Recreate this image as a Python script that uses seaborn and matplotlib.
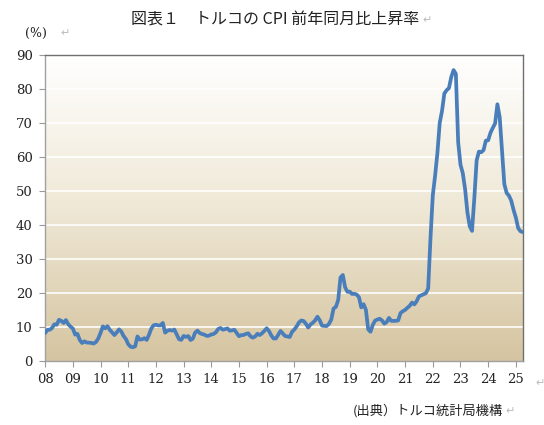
import matplotlib
matplotlib.use("Agg")
import matplotlib.pyplot as plt
from matplotlib.colors import LinearSegmentedColormap
import numpy as np
import pandas as pd
import seaborn as sns

# monthly CPI YoY (%), Jan 2008 - Apr 2025
cpi_2008 = [8.17, 9.10, 9.15, 9.66, 10.74, 10.61, 12.06, 11.77, 11.13, 11.99, 10.76, 10.06]
cpi_2009 = [9.50, 7.73, 7.89, 6.13, 5.24, 5.73, 5.39, 5.33, 5.27, 5.08, 5.53, 6.53]
cpi_2010 = [8.19, 10.13, 9.56, 10.19, 9.10, 8.37, 7.58, 8.33, 9.24, 8.62, 7.29, 6.40]
cpi_2011 = [4.90, 4.16, 3.99, 4.26, 7.17, 6.24, 6.31, 6.65, 6.15, 7.66, 9.48, 10.45]
cpi_2012 = [10.61, 10.43, 10.43, 11.14, 8.28, 8.87, 9.07, 8.88, 9.19, 7.80, 6.37, 6.16]
cpi_2013 = [7.31, 7.03, 7.29, 6.13, 6.51, 8.30, 8.88, 8.17, 7.88, 7.71, 7.32, 7.40]
cpi_2014 = [7.75, 7.89, 8.39, 9.38, 9.66, 9.16, 9.32, 9.54, 8.86, 8.96, 9.15, 8.17]
cpi_2015 = [7.24, 7.55, 7.61, 7.91, 8.09, 7.20, 6.81, 7.14, 7.95, 7.58, 8.10, 8.81]
cpi_2016 = [9.58, 8.78, 7.46, 6.57, 6.58, 7.64, 8.79, 8.05, 7.28, 7.16, 7.00, 8.53]
cpi_2017 = [9.22, 10.13, 11.29, 11.87, 11.72, 10.90, 9.79, 10.68, 11.20, 11.90, 12.98, 11.92]
cpi_2018 = [10.35, 10.26, 10.23, 10.85, 12.15, 15.39, 15.85, 17.90, 24.52, 25.24, 21.62, 20.30]
cpi_2019 = [20.35, 19.67, 19.71, 19.50, 18.71, 15.72, 16.65, 15.01, 9.26, 8.55, 10.56, 11.84]
cpi_2020 = [12.15, 12.37, 11.86, 10.94, 11.39, 12.62, 11.76, 11.77, 11.75, 11.89, 14.03, 14.60]
cpi_2021 = [14.97, 15.61, 16.19, 17.14, 16.59, 17.53, 18.95, 19.25, 19.58, 19.89, 21.31, 36.08]
cpi_2022 = [48.69, 54.44, 61.14, 69.97, 73.50, 78.62, 79.60, 80.21, 83.45, 85.51, 84.39, 64.27]
cpi_2023 = [57.68, 55.18, 50.51, 43.68, 39.59, 38.21, 47.83, 58.94, 61.53, 61.36, 61.98, 64.77]
cpi_2024 = [64.86, 67.07, 68.50, 69.80, 75.45, 71.60, 61.78, 51.97, 49.38, 48.58, 47.09, 44.38]
cpi_2025 = [42.12, 39.05, 38.10, 37.86]

year_labels = ["08", "09", "10", "11", "12", "13", "14", "15", "16",
               "17", "18", "19", "20", "21", "22", "23", "24", "25"]
y_ticks = [0, 10, 20, 30, 40, 50, 60, 70, 80, 90]

values = (cpi_2008 + cpi_2009 + cpi_2010 + cpi_2011 + cpi_2012 + cpi_2013
          + cpi_2014 + cpi_2015 + cpi_2016 + cpi_2017 + cpi_2018 + cpi_2019
          + cpi_2020 + cpi_2021 + cpi_2022 + cpi_2023 + cpi_2024 + cpi_2025)
df = pd.DataFrame({"month": np.arange(len(values)), "cpi": values})

sns.set_theme(style="white")
plt.rcParams["font.family"] = ["Noto Sans CJK JP", "DejaVu Sans"]

fig = plt.figure(figsize=(5.44, 4.25), dpi=100)
ax = fig.add_axes([0.083, 0.151, 0.878, 0.72])

xmax = len(values) - 1
# gradient background, white at top to tan at bottom
bg = LinearSegmentedColormap.from_list("bg", ["#D5C4A0", "#EFE8D6", "#FFFFFF"])
grad = np.linspace(0, 1, 256).reshape(-1, 1)
ax.imshow(grad, cmap=bg, aspect="auto", origin="lower",
          extent=[0, xmax, 0, 90], zorder=0)

for y in y_ticks[1:-1]:
    ax.axhline(y, color="white", lw=1.3, alpha=0.9, zorder=1)

sns.lineplot(data=df, x="month", y="cpi", color="#4A7EBB", lw=2.7, ax=ax, zorder=3)

ax.set_xlim(0, xmax)
ax.set_ylim(0, 90)
ax.set_xticks(np.arange(len(year_labels)) * 12)
ax.set_xticklabels(year_labels, fontfamily="DejaVu Serif", fontsize=9.5, color="#222222")
ax.set_yticks(y_ticks)
ax.set_yticklabels([str(v) for v in y_ticks], fontfamily="DejaVu Serif",
                   fontsize=9.5, color="#222222")
ax.set_xlabel("")
ax.set_ylabel("")
ax.tick_params(axis="both", which="both", length=4, width=0.8, color="#999999",
               pad=5, direction="out", bottom=True, left=True)

for side in ["top", "right"]:
    ax.spines[side].set_color("#707070")
    ax.spines[side].set_linewidth(1.0)
for side in ["left", "bottom"]:
    ax.spines[side].set_color("#A0A0A0")
    ax.spines[side].set_linewidth(1.0)

mark = "#BBBBBB"
fig.text(0.505, 0.952, "図表１　トルコの CPI 前年同月比上昇率", ha="center", va="center",
         fontsize=11.5, color="#222222")
fig.text(0.776, 0.952, "↵", ha="left", va="center", fontsize=8, color=mark,
         family=["DejaVu Sans"])
fig.text(0.046, 0.922, "(%)", ha="left", va="center", fontsize=9, color="#222222",
         family=["DejaVu Serif"])
fig.text(0.112, 0.922, "↵", ha="left", va="center", fontsize=8, color=mark,
         family=["DejaVu Sans"])
fig.text(0.985, 0.098, "↵", ha="left", va="center", fontsize=8, color=mark,
         family=["DejaVu Sans"])
fig.text(0.925, 0.033, "(出典）トルコ統計局機構", ha="right", va="center",
         fontsize=9.5, color="#222222")
fig.text(0.929, 0.033, "↵", ha="left", va="center", fontsize=8, color=mark,
         family=["DejaVu Sans"])

fig.savefig("out.png", dpi=100)
plt.close(fig)
